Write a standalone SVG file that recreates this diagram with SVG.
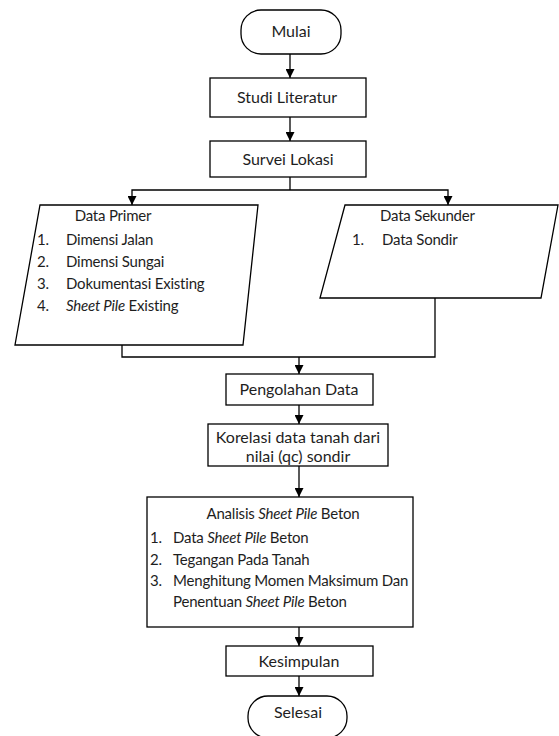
<svg xmlns="http://www.w3.org/2000/svg" width="559" height="736" viewBox="0 0 559 736">
<defs>
<marker id="arr" markerWidth="9" markerHeight="9" refX="9" refY="4.5" orient="auto" markerUnits="userSpaceOnUse">
<path d="M0,0 L9,4.5 L0,9 z" fill="#000"/>
</marker>
</defs>
<style>
.shape{fill:#fff;stroke:#000;stroke-width:1.3}
.line{fill:none;stroke:#000;stroke-width:1.3}
.arr{fill:none;stroke:#000;stroke-width:1.3;marker-end:url(#arr)}
text{font-family:Lato,"Open Sans","Liberation Sans",sans-serif;font-size:15px;letter-spacing:-0.2px;fill:#1e1e1e}
.b{font-size:16px;letter-spacing:0}
.c{text-anchor:middle}
</style>
<rect width="559" height="736" fill="#fff"/>
<g id="connectors">
<line class="arr" x1="290" y1="54" x2="290" y2="78"/>
<line class="arr" x1="290" y1="117" x2="290" y2="141"/>
<polyline class="line" points="290,177 290,190"/>
<polyline class="arr" points="290,190 132,190 132,205"/>
<polyline class="arr" points="290,190 448,190 448,205"/>
<polyline class="line" points="122,345 122,357 435,357 435,298"/>
<line class="arr" x1="299" y1="357" x2="299" y2="374"/>
<line class="arr" x1="299" y1="405" x2="299" y2="424"/>
<line class="arr" x1="299" y1="466" x2="299" y2="497"/>
<line class="arr" x1="299" y1="627" x2="299" y2="646"/>
<line class="arr" x1="299" y1="676" x2="299" y2="696"/>
</g>
<g id="mulai">
<rect class="shape" x="241" y="10" width="100" height="44" rx="20" ry="20"/>
<text class="c b" x="291" y="37">Mulai</text>
</g>
<g id="studi-literatur">
<rect class="shape" x="210" y="78" width="156" height="39"/>
<text class="c b" x="287" y="103">Studi Literatur</text>
</g>
<g id="survei-lokasi">
<rect class="shape" x="210" y="141" width="156" height="36"/>
<text class="c b" x="288" y="165">Survei Lokasi</text>
</g>
<g id="data-primer">
<polygon class="shape" points="40,205 258,205 243,345 15,345"/>
<text class="c" x="113" y="221">Data Primer</text>
<text x="37" y="245">1.</text><text x="66" y="245">Dimensi Jalan</text>
<text x="37" y="267">2.</text><text x="66" y="267">Dimensi Sungai</text>
<text x="37" y="289">3.</text><text x="66" y="289">Dokumentasi Existing</text>
<text x="37" y="311">4.</text><text x="66" y="311"><tspan font-style="italic">Sheet Pile</tspan> Existing</text>
</g>
<g id="data-sekunder">
<polygon class="shape" points="345,205 558,205 541,298 320,298"/>
<text x="380" y="221">Data Sekunder</text>
<text x="352" y="245">1.</text><text x="382" y="245">Data Sondir</text>
</g>
<g id="pengolahan-data">
<rect class="shape" x="226" y="374" width="147" height="31"/>
<text class="c b" x="299" y="395">Pengolahan Data</text>
</g>
<g id="korelasi">
<rect class="shape" x="208" y="424" width="180" height="42"/>
<text class="c b" x="298" y="443">Korelasi data tanah dari</text>
<text class="c b" x="298" y="462">nilai (qc) sondir</text>
</g>
<g id="analisis">
<rect class="shape" x="147" y="497" width="266" height="130"/>
<text class="c" x="283" y="519">Analisis <tspan font-style="italic">Sheet Pile</tspan> Beton</text>
<text x="150" y="543">1.</text><text x="173" y="543">Data <tspan font-style="italic">Sheet Pile</tspan> Beton</text>
<text x="150" y="565">2.</text><text x="173" y="565">Tegangan Pada Tanah</text>
<text x="150" y="586">3.</text><text x="173" y="586">Menghitung Momen Maksimum Dan</text>
<text x="173" y="607">Penentuan <tspan font-style="italic">Sheet Pile</tspan> Beton</text>
</g>
<g id="kesimpulan">
<rect class="shape" x="226" y="646" width="147" height="30"/>
<text class="c b" x="299" y="667">Kesimpulan</text>
</g>
<g id="selesai">
<rect class="shape" x="248" y="696" width="99" height="42" rx="20" ry="20"/>
<text class="c b" x="298" y="718">Selesai</text>
</g>
</svg>
